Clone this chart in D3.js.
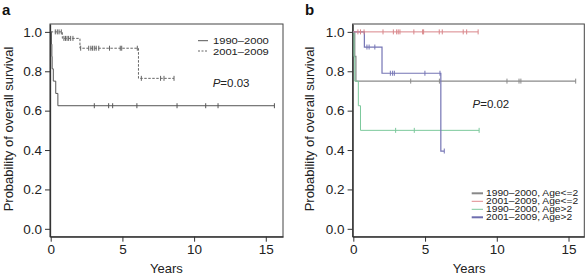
<!DOCTYPE html>
<html>
<head>
<meta charset="utf-8">
<script src="https://cdn.jsdelivr.net/npm/d3@7"></script>
<style>
  body { margin: 0; background: #fff; }
  svg { display: block; font-family: "Liberation Sans", Arial, Helvetica, sans-serif; }
</style>
</head>
<body>
<div id="chart"></div>
<script>
// axis ticks
var yearTicks = [0, 5, 10, 15];
var probTicks = [0, 0.2, 0.4, 0.6, 0.8, 1.0];

// panel a: 1990-2000 (solid)
var aEarlyTimes = [0, 0.05, 0.08, 0.1, 0.18, 0.35, 0.5, 15.6];
var aEarlySurv  = [1, 0.9375, 0.875, 0.8125, 0.75, 0.6875, 0.625, 0.625];
var aEarlyCens  = [3.04, 4.04, 4.32, 6.01, 8.81, 10.81, 11.67, 15.6];

// panel a: 2001-2009 (dashed)
var aLateTimes = [0, 0.81, 2.04, 6.12, 8.6];
var aLateSurv  = [1, 0.967, 0.917, 0.764, 0.764];
var aLateCens  = [0.32, 0.46, 0.58, 0.74, 0.92, 1.03, 1.14, 1.25, 1.39, 1.55,
                  2.09, 2.65, 2.8, 2.92, 3.04, 3.17, 3.35, 4.1, 4.85, 4.95, 6.04,
                  6.32, 7.66, 7.9, 8.6];

// panel b: four groups
var bGrayTimes = [0, 0.1, 0.18, 15.5];
var bGraySurv  = [1, 0.875, 0.75, 0.75];
var bGrayCens  = [4.0, 6.0, 10.71, 11.55, 11.68, 15.5];

var bRedTimes = [0, 8.7];
var bRedSurv  = [1, 1];
var bRedCens  = [0.32, 0.5, 0.75, 2.07, 2.79, 3.02, 3.13, 3.25, 4.22, 4.83, 4.9,
                 5.99, 6.2, 7.66, 7.9, 8.7];

var bGreenTimes = [0, 0.05, 0.1, 0.35, 0.5, 8.77];
var bGreenSurv  = [1, 0.875, 0.75, 0.625, 0.5, 0.5];
var bGreenCens  = [2.95, 4.25, 8.77];

var bBlueTimes = [0, 0.77, 2.0, 6.1, 6.34];
var bBlueSurv  = [1, 0.923, 0.79, 0.395, 0.395];
var bBlueCens  = [0.95, 1.1, 1.5, 2.58, 2.74, 2.86, 4.99, 6.04, 6.34];

var legendA = ["1990\u20132000", "2001\u20132009"];
var legendB = ["1990\u20132000, Age<=2", "2001\u20132009, Age<=2", "1990\u20132000, Age>2", "2001\u20132009, Age>2"];

var W = 585, H = 277;
var svg = d3.select("#chart").append("svg").attr("width", W).attr("height", H);

function zip(times, surv) {
  return times.map(function (t, i) { return { t: t, s: surv[i] }; });
}

// survival value at time t for a step curve
function survAt(times, surv, t) {
  var s = surv[0];
  for (var i = 0; i < times.length; i++) {
    if (times[i] <= t) s = surv[i];
  }
  return s;
}

function makePanel(opts) {
  var x = d3.scaleLinear().domain([-0.05, opts.xMax]).range([opts.left, opts.right]);
  var y = d3.scaleLinear().domain([-0.04, 1.04]).range([236.7, 24]);
  var g = svg.append("g");

  // frame
  g.append("rect")
    .attr("x", opts.left).attr("y", 24)
    .attr("width", opts.right - opts.left).attr("height", 236.7 - 24)
    .attr("fill", "none").attr("stroke", "#444").attr("stroke-width", 1);

  var yAxis = d3.axisLeft(y).tickValues(probTicks).tickFormat(d3.format(".1f"))
    .tickSize(5).tickSizeOuter(0).tickPadding(3);
  var xAxis = d3.axisBottom(x).tickValues(yearTicks).tickFormat(d3.format("d"))
    .tickSize(5).tickSizeOuter(0).tickPadding(3);

  var ya = g.append("g").attr("transform", "translate(" + opts.left + ",0)").call(yAxis);
  var xa = g.append("g").attr("transform", "translate(0,236.7)").call(xAxis);
  [ya, xa].forEach(function (a) {
    a.select(".domain").attr("stroke", "#333").attr("stroke-width", 1.3);
    a.selectAll(".tick line").attr("stroke", "#333");
    a.selectAll(".tick text").attr("font-size", 13.5).attr("fill", "#222")
      .attr("font-family", "Liberation Sans, Arial, sans-serif");
  });

  // axis titles
  g.append("text")
    .attr("transform", "translate(" + opts.yTitleX + "," + 129 + ") rotate(-90)")
    .attr("text-anchor", "middle").attr("font-size", 13).attr("fill", "#222")
    .text("Probability of overall survival");
  g.append("text")
    .attr("x", (x(0) + x(16)) / 2 + 1).attr("y", 273)
    .attr("text-anchor", "middle").attr("font-size", 13).attr("fill", "#222")
    .text("Years");

  // panel letter
  g.append("text")
    .attr("x", opts.letterX).attr("y", 15)
    .attr("font-size", 15).attr("font-weight", "bold").attr("fill", "#111")
    .text(opts.letter);

  var line = d3.line().curve(d3.curveStepAfter)
    .x(function (d) { return x(d.t); })
    .y(function (d) { return y(d.s); });

  opts.curves.forEach(function (c) {
    g.append("path").datum(zip(c.times, c.surv))
      .attr("d", line).attr("fill", "none")
      .attr("stroke", c.color).attr("stroke-width", c.width || 1)
      .attr("stroke-dasharray", c.dash || null);
    g.selectAll(null).data(c.cens).enter().append("line")
      .attr("x1", function (t) { return x(t); })
      .attr("x2", function (t) { return x(t); })
      .attr("y1", function (t) { return y(survAt(c.times, c.surv, t)) - 2.5; })
      .attr("y2", function (t) { return y(survAt(c.times, c.surv, t)) + 2.5; })
      .attr("stroke", c.color).attr("stroke-width", 1);
  });

  return { g: g, x: x, y: y };
}

var pa = makePanel({
  left: 50, right: 283, xMax: 16.2, yTitleX: 12.5, letter: "a", letterX: 2,
  curves: [
    { times: aEarlyTimes, surv: aEarlySurv, cens: aEarlyCens, color: "#555", width: 1 },
    { times: aLateTimes, surv: aLateSurv, cens: aLateCens, color: "#666", width: 1, dash: "2.5,1.5" }
  ]
});

var pb = makePanel({
  left: 352.6, right: 584.3, xMax: 16.1, yTitleX: 314, letter: "b", letterX: 305,
  curves: [
    { times: bGrayTimes, surv: bGraySurv, cens: bGrayCens, color: "#8a8a8a", width: 1.3 },
    { times: bGreenTimes, surv: bGreenSurv, cens: bGreenCens, color: "#7cc99c", width: 1 },
    { times: bBlueTimes, surv: bBlueSurv, cens: bBlueCens, color: "#7575b5", width: 1.2 },
    { times: bRedTimes, surv: bRedSurv, cens: bRedCens, color: "#d9868a", width: 1 }
  ]
});

// legend a (rows close together: smaller glyphs stretched sideways)
var legA = pa.g.append("g");
legendA.forEach(function (label, i) {
  var yy = 40.7 + i * 10.3;
  legA.append("line").attr("x1", 198).attr("x2", 208).attr("y1", yy).attr("y2", yy)
    .attr("stroke", i === 0 ? "#555" : "#666").attr("stroke-dasharray", i === 0 ? null : "2,1.5");
  legA.append("text")
    .attr("transform", "translate(213," + (yy + 3.6) + ") scale(1.2,1)")
    .attr("font-size", 9.3).attr("fill", "#222")
    .text(label);
});
var pA = pa.g.append("text").attr("x", 212.7).attr("y", 87).attr("font-size", 11.5).attr("fill", "#222");
pA.append("tspan").attr("font-style", "italic").text("P");
pA.append("tspan").text("=0.03");

// legend b: rows are tightly packed, so glyphs are widened from a smaller size
var legColors = ["#888", "#e08a8e", "#7cc99c", "#6e6eaf"];
var legWidths = [2, 1, 1, 2];
var legB = pb.g.append("g");
legendB.forEach(function (label, i) {
  var yy = 193.3 + i * 8;
  legB.append("line").attr("x1", 471.7).attr("x2", 483).attr("y1", yy).attr("y2", yy)
    .attr("stroke", legColors[i]).attr("stroke-width", legWidths[i]);
  legB.append("text")
    .attr("transform", "translate(486," + (yy + 3) + ") scale(1.25,1)")
    .attr("font-size", 8.2).attr("fill", "#222")
    .text(label);
});
var pB = pb.g.append("text").attr("x", 472.5).attr("y", 108).attr("font-size", 11.5).attr("fill", "#222");
pB.append("tspan").attr("font-style", "italic").text("P");
pB.append("tspan").text("=0.02");
</script>
</body>
</html>
